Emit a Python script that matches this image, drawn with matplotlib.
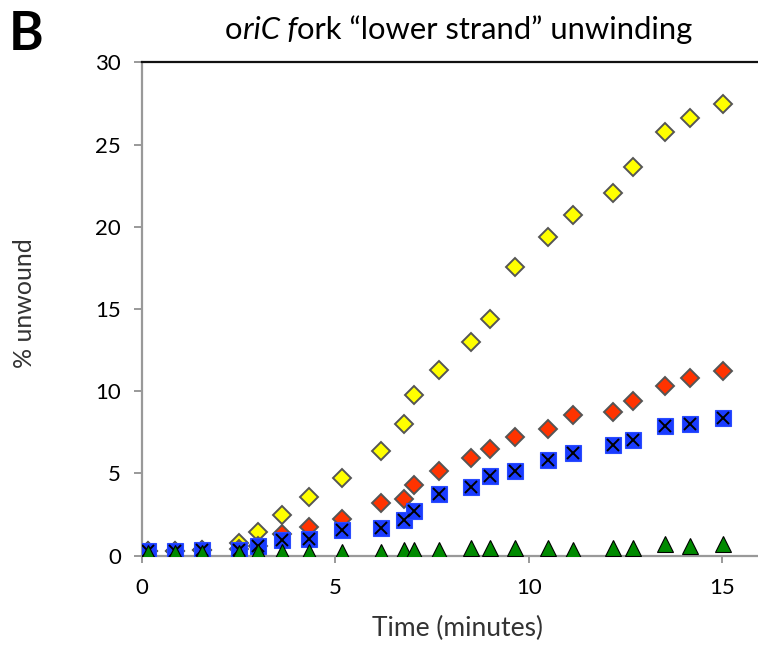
import matplotlib
matplotlib.use("Agg")
import matplotlib.pyplot as plt

# ---- data ----
time_min = [0.16, 0.85, 1.54, 2.51, 2.99, 3.63, 4.32, 5.16, 6.18, 6.78, 7.03,
            7.67, 8.50, 9.00, 9.65, 10.50, 11.15, 12.18, 12.69, 13.52, 14.16, 15.01]
yellow_vals = [0.3, 0.3, 0.35, 0.77, 1.44, 2.47, 3.59, 4.72, 6.36, 8.0, 9.75,
               11.29, 13.0, 14.37, 17.53, 19.39, 20.71, 22.03, 23.65, 25.74, 26.59, 27.48]
red_vals = [0.3, 0.3, 0.35, 0.4, 0.6, 1.3, 1.74, 2.23, 3.22, 3.43, 4.3,
            5.17, 5.92, 6.49, 7.23, 7.68, 8.55, 8.75, 9.42, 10.32, 10.8, 11.2]
blue_vals = [0.3, 0.3, 0.35, 0.35, 0.59, 0.95, 1.01, 1.56, 1.7, 2.2, 2.74,
             3.73, 4.19, 4.85, 5.17, 5.82, 6.26, 6.71, 7.03, 7.9, 8.0, 8.35]
green_vals = [0.15, 0.15, 0.15, 0.15, 0.25, 0.25, 0.25, 0.2, 0.25, 0.35, 0.35,
              0.35, 0.45, 0.45, 0.45, 0.45, 0.35, 0.45, 0.45, 0.69, 0.59, 0.69]

x_ticks = [0, 5, 10, 15]
y_ticks = [0, 5, 10, 15, 20, 25, 30]

FONT = "Lato"
plt.rcParams["font.family"] = [FONT, "DejaVu Sans"]

fig = plt.figure(figsize=(7.58, 6.59), dpi=100)
ax = fig.add_axes([142 / 758, 103.3 / 659, (757 - 142) / 758, (555.7 - 62.3) / 659])

edge = "#555555"
ax.plot(time_min, yellow_vals, linestyle="none", marker="D", ms=9.2,
        mfc="#ffff00", mec=edge, mew=1.4, zorder=3)
ax.plot(time_min, red_vals, linestyle="none", marker="D", ms=9.2,
        mfc="#ff3300", mec=edge, mew=1.4, zorder=4)
ax.plot(time_min, blue_vals, linestyle="none", marker="s", ms=11,
        mfc="#1a3cff", mec="#2a4cff", mew=0.8, zorder=5)
ax.plot(time_min, blue_vals, linestyle="none", marker="x", ms=8.5,
        mec="black", mew=1.4, zorder=6)
ax.plot(time_min, green_vals, linestyle="none", marker="^", ms=11,
        mfc="#008a00", mec="black", mew=0.8, zorder=7)

ax.set_xlim(0, 15.9)
ax.set_ylim(0, 30)
ax.set_xticks(x_ticks)
ax.set_yticks(y_ticks)

ax.spines["right"].set_visible(False)
ax.spines["left"].set_color("#999999")
ax.spines["left"].set_linewidth(1.6)
ax.spines["bottom"].set_color("#999999")
ax.spines["bottom"].set_linewidth(1.6)
ax.spines["top"].set_color("#111111")
ax.spines["top"].set_linewidth(1.6)
for sp in ax.spines.values():
    sp.set_clip_on(False)

ax.tick_params(axis="y", direction="out", length=6, width=1.4, color="#999999",
               labelsize=16, pad=9, labelcolor="black")
ax.tick_params(axis="x", direction="out", length=5, width=1.4, color="#999999",
               labelsize=16, pad=11, labelcolor="black")

# axis labels
fig.text(457 / 758, 1 - 628 / 659, "Time (minutes)", fontsize=19, color="#333333",
         ha="center", va="center")
fig.text(25 / 758, 1 - 303 / 659, "% unwound", fontsize=18, color="#333333",
         ha="center", va="center", rotation=90)

# panel letter
fig.text(9 / 758, 1 - 50 / 659, "B", fontsize=38, fontweight="bold",
         color="black", ha="left", va="baseline")

# title with mixed italics
t1 = fig.text(225 / 758, 1 - 39 / 659, "o", fontsize=22.3, ha="left", va="baseline")
t2 = ax.annotate("riC f", xy=(1, 0), xycoords=t1, va="bottom", ha="left",
                 fontsize=22.3, fontstyle="italic", annotation_clip=False)
t3 = ax.annotate("ork \u201clower strand\u201d unwinding", xy=(1, 0), xycoords=t2,
                 va="bottom", ha="left", fontsize=22.3, annotation_clip=False)

fig.savefig("out.png", dpi=100)
